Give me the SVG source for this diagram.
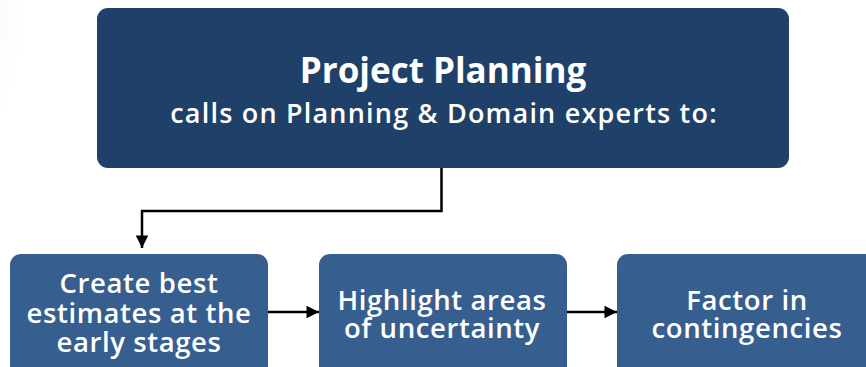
<svg xmlns="http://www.w3.org/2000/svg" width="866" height="367" viewBox="0 0 866 367">
<defs>
<style>
.top{fill:#1f4169;}
.box{fill:#365f8f;}
.t{font-family:"Open Sans","Liberation Sans",sans-serif;fill:#ffffff;text-anchor:middle;}
.title{font-size:35px;font-weight:700;}
.sub{font-size:27px;font-weight:600;letter-spacing:1.2px;}
.lbl{font-size:27.5px;font-weight:600;letter-spacing:0.6px;}
.conn{fill:none;stroke:#000;stroke-width:2.5;}
</style>
<marker id="ah" viewBox="0 0 10 10" refX="10" refY="5" markerWidth="5.5" markerHeight="5" orient="auto" markerUnits="strokeWidth">
<path d="M0,0 L10,5 L0,10 z" fill="#000"/>
</marker>
<radialGradient id="glow" cx="0" cy="0.2" r="1">
<stop offset="0" stop-color="#e8edf5"/>
<stop offset="1" stop-color="#ffffff" stop-opacity="0"/>
</radialGradient>
</defs>
<rect x="0" y="0" width="866" height="367" fill="#ffffff"/>
<ellipse cx="0" cy="40" rx="30" ry="80" fill="url(#glow)"/>
<g id="connectors">
<path class="conn" d="M441.5,168 V211 H142 V248" marker-end="url(#ah)"/>
<path class="conn" d="M268,312 H319" marker-end="url(#ah)"/>
<path class="conn" d="M567,312 H617" marker-end="url(#ah)"/>
</g>
<g id="project-planning">
<rect class="top" x="97" y="8" width="692" height="160" rx="11"/>
<text class="t title" x="443" y="83">Project Planning</text>
<text class="t sub" x="444" y="123">calls on Planning &amp; Domain experts to:</text>
</g>
<g id="create-estimates">
<rect class="box" x="10" y="254" width="258" height="130" rx="11"/>
<text class="t lbl" x="139" y="293">Create best</text>
<text class="t lbl" x="139" y="323">estimates at the</text>
<text class="t lbl" x="139" y="352">early stages</text>
</g>
<g id="highlight-uncertainty">
<rect class="box" x="319" y="254" width="248" height="130" rx="11"/>
<text class="t lbl" x="442" y="310">Highlight areas</text>
<text class="t lbl" x="442" y="338">of uncertainty</text>
</g>
<g id="factor-contingencies">
<rect class="box" x="617" y="254" width="260" height="130" rx="11"/>
<text class="t lbl" x="747" y="310">Factor in</text>
<text class="t lbl" x="747" y="338">contingencies</text>
</g>
</svg>
